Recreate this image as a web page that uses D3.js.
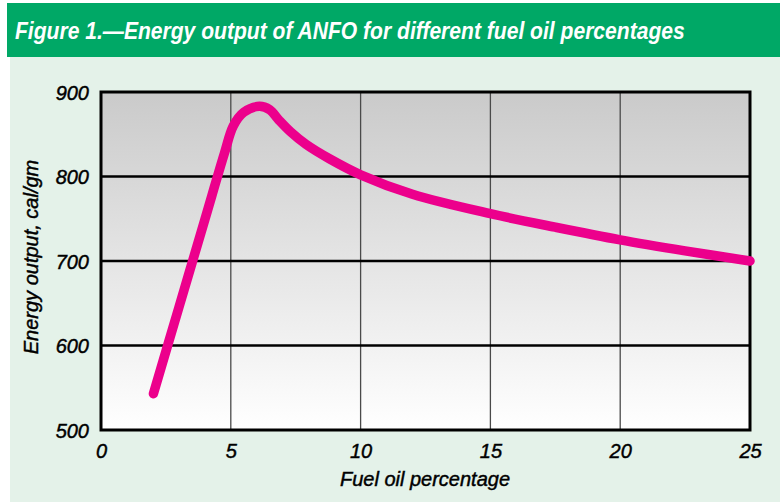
<!DOCTYPE html>
<html>
<head>
<meta charset="utf-8">
<script src="https://cdn.jsdelivr.net/npm/d3@7"></script>
<style>
  html, body { margin: 0; padding: 0; background: #ffffff; }
  svg { display: block; }
</style>
</head>
<body>
<svg id="chart" width="780" height="502"></svg>
<script>
// ---- data ----
const titleText = "Figure 1.\u2014Energy output of ANFO for different fuel oil percentages";
const xTitle = "Fuel oil percentage";
const yTitle = "Energy output, cal/gm";
const xTicks = [0, 5, 10, 15, 20, 25];
const yTicks = [500, 600, 700, 800, 900];
const fuelOil = [2.02, 3, 4, 4.75, 5.1, 5.5, 6.1, 6.5, 6.85, 7.3, 7.9, 8.8, 10, 12, 15, 17.5, 20, 22.5, 25];
const energy  = [543, 645, 749, 827, 860, 876, 883, 879, 867, 853, 838, 821, 802, 779, 756, 740, 725, 712, 700];

// ---- layout ----
const svg = d3.select("#chart");
const W = 780, H = 502;
const plot = { left: 101, right: 750, top: 92, bottom: 430 };

// backgrounds
svg.append("rect").attr("x", 10).attr("y", 57).attr("width", W - 10).attr("height", H - 57).attr("fill", "#e4f2e9");
svg.append("rect").attr("x", 7).attr("y", 3).attr("width", W - 7).attr("height", 54).attr("fill", "#00a866");

const titleG = svg.append("g");
const title = titleG.append("text")
  .attr("x", 0).attr("y", 0)
  .attr("fill", "#ffffff")
  .attr("font-family", "'Liberation Sans', Arial, sans-serif")
  .attr("font-size", 24)
  .attr("font-weight", "bold")
  .attr("font-style", "italic")
  .text(titleText);
const tw = title.node().getComputedTextLength();
const sx = 670 / tw;
titleG.attr("transform", `translate(15,39) scale(${sx},1)`);

// scales
const x = d3.scaleLinear().domain([0, 25]).range([plot.left, plot.right]);
const y = d3.scaleLinear().domain([500, 900]).range([plot.bottom, plot.top]);

// gradient
const defs = svg.append("defs");
const grad = defs.append("linearGradient").attr("id", "bg").attr("x1", 0).attr("y1", 0).attr("x2", 0).attr("y2", 1);
grad.append("stop").attr("offset", "0%").attr("stop-color", "#cacaca");
grad.append("stop").attr("offset", "100%").attr("stop-color", "#ffffff");

svg.append("rect")
  .attr("x", plot.left).attr("y", plot.top)
  .attr("width", plot.right - plot.left).attr("height", plot.bottom - plot.top)
  .attr("fill", "url(#bg)");

// vertical grid
svg.append("g").selectAll("line")
  .data(xTicks.filter(d => d > 0 && d < 25))
  .join("line")
  .attr("x1", d => x(d)).attr("x2", d => x(d))
  .attr("y1", plot.top).attr("y2", plot.bottom)
  .attr("stroke", "#4a4a4a").attr("stroke-width", 1.3);

// horizontal grid
svg.append("g").selectAll("line")
  .data(yTicks.filter(d => d > 500 && d < 900))
  .join("line")
  .attr("x1", plot.left).attr("x2", plot.right)
  .attr("y1", d => y(d)).attr("y2", d => y(d))
  .attr("stroke", "#000000").attr("stroke-width", 2.5);

// frame
svg.append("rect")
  .attr("x", plot.left).attr("y", plot.top)
  .attr("width", plot.right - plot.left).attr("height", plot.bottom - plot.top)
  .attr("fill", "none").attr("stroke", "#000").attr("stroke-width", 3);

// axes (labels only)
const fontFam = "'Liberation Sans', Arial, sans-serif";
function styleText(sel) {
  sel.attr("font-family", fontFam).attr("font-size", 20).attr("font-style", "italic")
     .attr("fill", "#000").attr("stroke", "#000").attr("stroke-width", 0.45);
}
const xAxis = d3.axisBottom(x).tickValues(xTicks).tickSize(0).tickPadding(0);
const gx = svg.append("g").attr("transform", `translate(0,${plot.bottom})`).call(xAxis);
gx.select(".domain").remove();
gx.selectAll("text").attr("dy", 0).attr("y", 28).call(styleText);

const yAxis = d3.axisLeft(y).tickValues(yTicks).tickSize(0).tickPadding(0);
const gy = svg.append("g").attr("transform", `translate(${plot.left - 12},0)`).call(yAxis);
gy.select(".domain").remove();
gy.selectAll("text").attr("dy", "0.36em").call(styleText);

// axis titles
svg.append("text")
  .attr("x", 425).attr("y", 486)
  .attr("text-anchor", "middle")
  .call(styleText)
  .text(xTitle);

svg.append("text")
  .attr("transform", "translate(38,257) rotate(-90)")
  .attr("text-anchor", "middle")
  .call(styleText)
  .text(yTitle);

// curve
const data = fuelOil.map((v, i) => ({ x: v, y: energy[i] }));
const line = d3.line().x(d => x(d.x)).y(d => y(d.y)).curve(d3.curveCatmullRom.alpha(0.5));
svg.append("path")
  .datum(data)
  .attr("d", line)
  .attr("fill", "none")
  .attr("stroke", "#ec008c")
  .attr("stroke-width", 9.5)
  .attr("stroke-linecap", "round")
  .attr("stroke-linejoin", "round");
</script>
</body>
</html>
